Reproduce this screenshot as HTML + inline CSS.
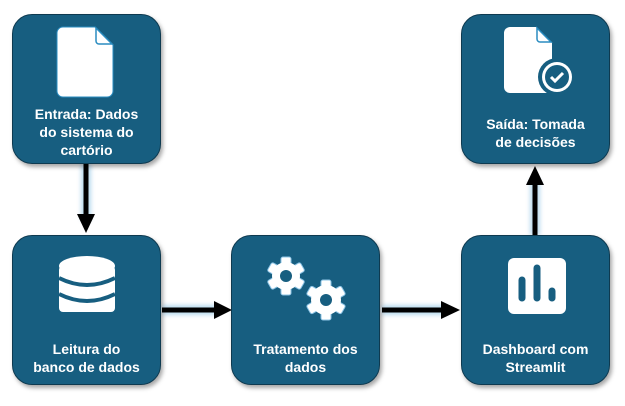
<!DOCTYPE html>
<html><head><style>
body{margin:0;width:625px;height:406px;background:#fff;position:relative;overflow:hidden;font-family:"Liberation Sans",sans-serif}
.b{position:absolute;width:147px;height:148px;background:#175e80;border:1.5px solid #0e3a50;border-radius:20px;box-shadow:2px 3px 4px rgba(0,0,0,.35)}
.t{position:absolute;left:0;right:0;color:#fff;font-weight:bold;font-size:14px;line-height:18px;text-align:center}
svg{position:absolute}
</style></head><body>
<svg width="625" height="406" style="left:0;top:0">
<defs><filter id="g"><feGaussianBlur stdDeviation="2"/></filter></defs>
<g stroke="#9ccbe8" stroke-width="10" fill="#9ccbe8" filter="url(#g)" opacity=".7">
<line x1="86" y1="164" x2="86" y2="220"/><line x1="162" y1="310" x2="218" y2="310"/><line x1="382" y1="310" x2="447" y2="310"/><line x1="535" y1="235" x2="535" y2="180"/></g>
<g stroke="#000" stroke-width="5">
<line x1="86" y1="164" x2="86" y2="216"/><line x1="162" y1="310" x2="216" y2="310"/><line x1="382" y1="310" x2="444" y2="310"/><line x1="535" y1="235" x2="535" y2="183"/></g>
<polygon points="77,214 95,214 86,233" fill="#000"/>
<polygon points="214,301 214,319 232,310" fill="#000"/>
<polygon points="441,301 441,319 460,310" fill="#000"/>
<polygon points="526,185 544,185 535,166" fill="#000"/>
</svg>
<div class="b" style="left:12px;top:14px">
<svg width="147" height="148" style="left:0;top:0"><path d="M50 12 h32 l18 18 v46 a6 6 0 0 1 -6 6 h-44 a6 6 0 0 1 -6 -6 v-58 a6 6 0 0 1 6 -6z" fill="#fff" stroke="#2a8cc0" stroke-width="1"/><path d="M83 13 v13 a3 3 0 0 0 3 3 h13z" fill="#fff" stroke="#2a8cc0" stroke-width="1.5"/></svg>
<div class="t" style="top:90px">Entrada: Dados<br>do sistema do<br>cartório</div></div>
<div class="b" style="left:12px;top:235px">
<svg width="147" height="148" style="left:0;top:0"><g fill="#fff"><ellipse cx="74" cy="30" rx="28" ry="10"/><rect x="46" y="30" width="56" height="46" rx="4"/></g><g stroke="#175e80" stroke-width="4" fill="none"><path d="M46 42 q28 14 56 0"/><path d="M46 58 q28 14 56 0"/></g></svg>
<div class="t" style="top:104px">Leitura do<br>banco de dados</div></div>
<div class="b" style="left:231px;top:235px">
<svg width="147" height="148" style="left:0;top:0">
<g fill="#fff" stroke="#8cc4e6" stroke-width="1">
<g transform="translate(54,40)"><rect x="-5" y="-19" width="10" height="38" rx="2"/><rect x="-5" y="-19" width="10" height="38" rx="2" transform="rotate(60)"/><rect x="-5" y="-19" width="10" height="38" rx="2" transform="rotate(120)"/><circle r="14" stroke="none"/></g>
<g transform="translate(94,64)"><rect x="-5" y="-20" width="10" height="40" rx="2"/><rect x="-5" y="-20" width="10" height="40" rx="2" transform="rotate(60)"/><rect x="-5" y="-20" width="10" height="40" rx="2" transform="rotate(120)"/><circle r="15" stroke="none"/></g>
</g>
<circle cx="54" cy="40" r="6" fill="#175e80"/><circle cx="94" cy="64" r="6" fill="#175e80"/></svg>
<div class="t" style="top:104px">Tratamento dos<br>dados</div></div>
<div class="b" style="left:461px;top:235px">
<svg width="147" height="148" style="left:0;top:0"><rect x="46" y="22" width="58" height="56" rx="6" fill="#fff"/><g stroke="#175e80" stroke-width="7" stroke-linecap="round"><line x1="60" y1="44" x2="60" y2="62"/><line x1="75" y1="32" x2="75" y2="62"/><line x1="90" y1="55" x2="90" y2="62"/></g></svg>
<div class="t" style="top:104px">Dashboard com<br>Streamlit</div></div>
<div class="b" style="left:461px;top:14px">
<svg width="147" height="148" style="left:0;top:0"><path d="M48 12 h26 l16 16 v44 a6 6 0 0 1 -6 6 h-36 a6 6 0 0 1 -6 -6 v-54 a6 6 0 0 1 6 -6z" fill="#fff"/><path d="M75 13 v11 a3 3 0 0 0 3 3 h11z" fill="#fff" stroke="#2a8cc0" stroke-width="1.5"/><circle cx="95" cy="62" r="19" fill="#175e80"/><circle cx="95" cy="62" r="15" fill="#fff"/><circle cx="95" cy="62" r="12" fill="#175e80"/><path d="M89 62 l4 4 l8 -8" stroke="#fff" stroke-width="3" fill="none"/></svg>
<div class="t" style="top:100px">Saída: Tomada<br>de decisões</div></div>
</body></html>
